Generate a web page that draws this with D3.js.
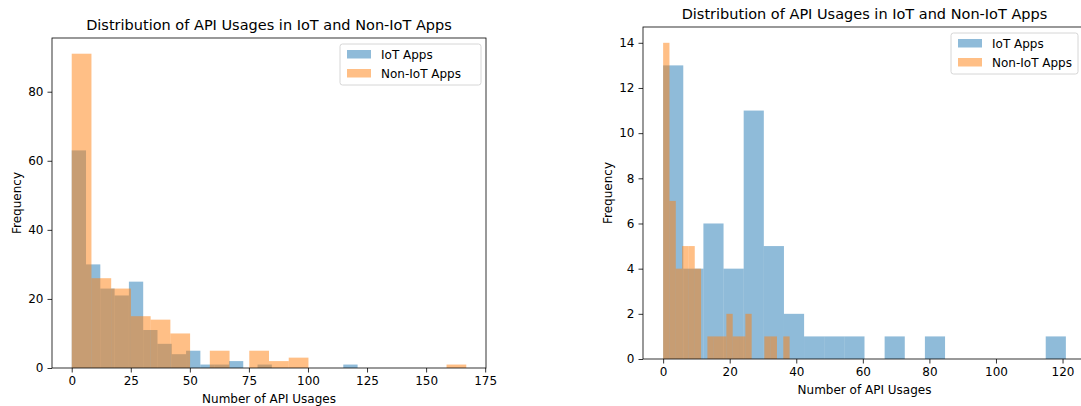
<!doctype html>
<html lang="en">
<head>
    <meta charset="utf-8">
    <title>API Usages in IoT and Non-IoT Apps</title>
    <script src="https://cdnjs.cloudflare.com/ajax/libs/d3/7.8.5/d3.min.js"></script>
    <style>
        body { margin: 0; background: #fff; }
        svg text { font-family: "DejaVu Sans", sans-serif; fill: #000; }
        .tick line { stroke: #000; stroke-width: 0.8; }
    </style>
</head>
<body>
    <svg id="chart" width="1081" height="406"></svg>
    <script>
        // histogram counts (20 bins each, over the given range)
        var leftIotCounts    = [63, 30, 23, 21, 25, 11, 7, 4, 5, 1, 1, 2, 0, 1, 0, 0, 0, 0, 0, 1];
        var leftIotRange     = [0, 121];
        var leftNonIotCounts = [91, 26, 23, 15, 14, 10, 0, 5, 0, 5, 2, 3, 0, 0, 0, 0, 0, 0, 0, 1];
        var leftNonIotRange  = [0, 167];

        var rightIotCounts    = [13, 4, 6, 4, 11, 5, 2, 1, 1, 1, 0, 1, 0, 1, 0, 0, 0, 0, 0, 1];
        var rightIotRange     = [0, 121];
        var rightNonIotCounts = [14, 7, 4, 5, 5, 4, 0, 1, 1, 1, 2, 1, 1, 2, 0, 0, 1, 1, 0, 1];
        var rightNonIotRange  = [0, 38];

        var leftXTicks  = [0, 25, 50, 75, 100, 125, 150, 175];
        var leftYTicks  = [0, 20, 40, 60, 80];
        var rightXTicks = [0, 20, 40, 60, 80, 100, 120];
        var rightYTicks = [0, 2, 4, 6, 8, 10, 12, 14];

        var seriesNames = ['IoT Apps', 'Non-IoT Apps'];
        var colors = ['#1f77b4', '#ff7f0e'];
        var title = 'Distribution of API Usages in IoT and Non-IoT Apps';

        var svg = d3.select('#chart');

        function toBins(counts, range) {
            var w = (range[1] - range[0]) / counts.length;
            return counts.map(function(n, i) {
                return {x0: range[0] + i * w, x1: range[0] + (i + 1) * w, n: n};
            });
        }

        function drawHist(box, series, xTicks, yTicks) {
            var lo = d3.min(series, function(s) { return s.range[0]; });
            var hi = d3.max(series, function(s) { return s.range[1]; });
            var pad = (hi - lo) * 0.05;
            var ymax = d3.max(series, function(s) { return d3.max(s.counts); }) * 1.05;

            var x = d3.scaleLinear().domain([lo - pad, hi + pad]).range([box.left, box.right]);
            var y = d3.scaleLinear().domain([0, ymax]).range([box.bottom, box.top]);

            var g = svg.append('g');

            series.forEach(function(s, k) {
                g.append('g').selectAll('rect')
                    .data(toBins(s.counts, s.range).filter(function(b) { return b.n > 0; }))
                    .enter().append('rect')
                    .attr('x', function(b) { return x(b.x0); })
                    .attr('width', function(b) { return x(b.x1) - x(b.x0); })
                    .attr('y', function(b) { return y(b.n); })
                    .attr('height', function(b) { return y(0) - y(b.n); })
                    .attr('fill', colors[k])
                    .attr('fill-opacity', 0.5);
            });

            var xAxis = g.append('g')
                .attr('transform', 'translate(0,' + box.bottom + ')')
                .call(d3.axisBottom(x).tickValues(xTicks).tickSize(4.5).tickPadding(4));
            var yAxis = g.append('g')
                .attr('transform', 'translate(' + box.left + ',0)')
                .call(d3.axisLeft(y).tickValues(yTicks).tickSize(4.5).tickPadding(4));
            [xAxis, yAxis].forEach(function(a) {
                a.select('.domain').remove();
                a.selectAll('text').style('font-size', '12px').attr('fill', '#000');
            });

            g.append('rect')
                .attr('x', box.left).attr('y', box.top)
                .attr('width', box.right - box.left)
                .attr('height', box.bottom - box.top)
                .attr('fill', 'none').attr('stroke', '#000').attr('stroke-width', 0.8);

            var cx = (box.left + box.right) / 2;
            g.append('text')
                .attr('x', cx).attr('y', box.top - 8)
                .attr('text-anchor', 'middle')
                .style('font-size', '14.5px')
                .text(title);

            g.append('text')
                .attr('x', cx).attr('y', box.bottom + 35)
                .attr('text-anchor', 'middle')
                .style('font-size', '12px')
                .text('Number of API Usages');

            g.append('text')
                .attr('transform', 'translate(' + (box.left - 31) + ',' + ((box.top + box.bottom) / 2) + ') rotate(-90)')
                .attr('text-anchor', 'middle')
                .style('font-size', '12px')
                .text('Frequency');

            // legend
            var lg = g.append('g').attr('transform', 'translate(' + box.legend[0] + ',' + box.legend[1] + ')');
            lg.append('rect')
                .attr('width', box.legend[2]).attr('height', 41)
                .attr('rx', 2.5)
                .attr('fill', '#fff').attr('fill-opacity', 0.8)
                .attr('stroke', '#cccccc').attr('stroke-width', 0.8);
            seriesNames.forEach(function(name, k) {
                lg.append('rect')
                    .attr('x', 7).attr('y', 6 + k * 19)
                    .attr('width', 24).attr('height', 8.5)
                    .attr('fill', colors[k]).attr('fill-opacity', 0.5);
                lg.append('text')
                    .attr('x', 41).attr('y', 14.5 + k * 19)
                    .style('font-size', '12px')
                    .text(name);
            });
        }

        drawHist({left: 52, right: 486, top: 38, bottom: 368, legend: [340, 44, 141]},
            [{counts: leftIotCounts, range: leftIotRange},
             {counts: leftNonIotCounts, range: leftNonIotRange}],
            leftXTicks, leftYTicks);

        drawHist({left: 643, right: 1086, top: 27, bottom: 359, legend: [951, 33, 127]},
            [{counts: rightIotCounts, range: rightIotRange},
             {counts: rightNonIotCounts, range: rightNonIotRange}],
            rightXTicks, rightYTicks);
    </script>
</body>
</html>
